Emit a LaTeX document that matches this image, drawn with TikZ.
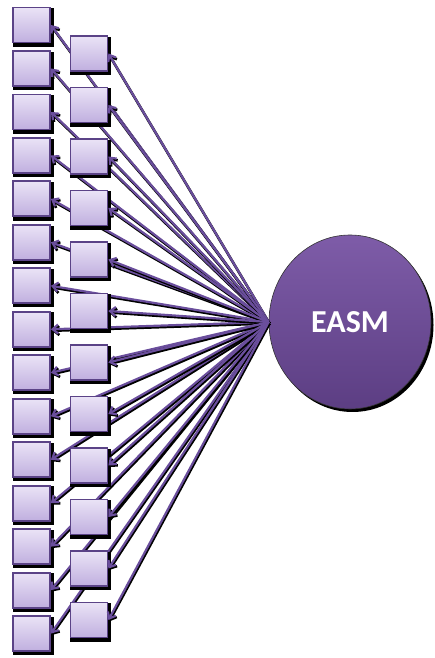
\documentclass[tikz,border=0pt]{standalone}
\usepackage{fontspec}
\setmainfont{Carlito}
\usetikzlibrary{arrows.meta,shapes.geometric,shadows}
\definecolor{boxtop}{HTML}{EAE3F6}
\definecolor{boxbot}{HTML}{C0AFDF}
\definecolor{boxline}{HTML}{5B4387}
\definecolor{arrcol}{HTML}{6A4E9C}
\definecolor{circtop}{HTML}{7E5CA8}
\definecolor{circbot}{HTML}{5C3E83}
\tikzset{
  itembox/.style={draw=boxline, line width=1.8pt, top color=boxtop, bottom color=boxbot,
    minimum width=37pt, minimum height=35pt, inner sep=0pt,
    drop shadow={shadow xshift=1.5pt, shadow yshift=-2.2pt, shadow scale=1.1, opacity=1, fill=black}},
  latent/.style={ellipse, top color=circtop, bottom color=circbot, draw=black!80, line width=0.6pt,
    minimum width=162pt, minimum height=174pt, inner sep=0pt, text=white,
    font=\bfseries\fontsize{32}{32}\selectfont,
    drop shadow={shadow xshift=2.5pt, shadow yshift=-3pt, opacity=1, fill=black}},
  arr/.style={draw=arrcol, line width=2.2pt, -{Straight Barb[length=5.5pt,width=9pt,line width=2.2pt]},
    preaction={draw=black, line width=2.6pt, -{Straight Barb[length=5.5pt,width=9pt,line width=2.6pt]},
      transform canvas={shift={(0.8pt,-1.5pt)}}}}
}
\begin{document}
\begin{tikzpicture}[x=1pt,y=1pt]
\useasboundingbox (0,0) rectangle (435,658);
% latent variable
\node[latent] (E) at (350,{658-322}) {EASM};
% left column of indicators
\foreach \i in {1,...,15} {
  \node[itembox] (L\i) at (31.5,{658-25-(\i-1)*43.47}) {};
}
% arrows to left column
\foreach \i in {1,...,15} {
  \draw[arr] (E.west) -- (L\i.east);
}
% middle column
\foreach \j in {1,...,12} {
  \node[itembox] (M\j) at (89,{658-53.5-(\j-1)*51.5}) {};
}
% arrows to middle column
\foreach \j in {1,...,12} {
  \draw[arr] (E.west) -- (M\j.east);
}
\end{tikzpicture}
\end{document}
